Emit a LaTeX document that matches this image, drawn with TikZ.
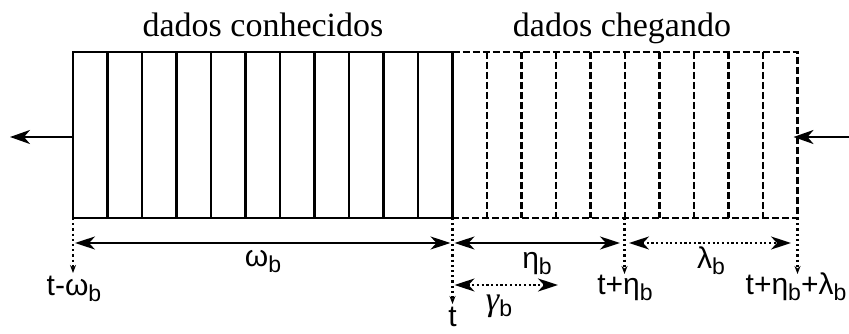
\documentclass[tikz,border=0pt]{standalone}
\usepackage{fontspec}
\setmainfont{Liberation Serif}
\newfontfamily\labfont{Liberation Sans}
\newfontfamily\gamfont{Liberation Serif}
\usetikzlibrary{arrows.meta}
\newcommand\sbx[1]{\raisebox{-6pt}{\fontsize{23}{23}\selectfont #1}}
\tikzset{
  boxline/.style={line width=2.2pt},
  dboxline/.style={line width=2.2pt, dash pattern=on 7pt off 3pt},
  bigtip/.style={-{Stealth[length=20pt,width=14pt,inset=6pt]}},
  dimarrow/.style={line width=2.2pt, {Stealth[length=20pt,width=13pt,inset=6pt]}-{Stealth[length=20pt,width=13pt,inset=6pt]}},
  ddimarrow/.style={dimarrow, dash pattern=on 2.2pt off 2.5pt},
  tickarrow/.style={line width=2.2pt, dash pattern=on 2.2pt off 3pt, -{Stealth[length=8pt,width=6pt]}},
  titletext/.style={font=\fontsize{34}{40}\selectfont, inner sep=0pt, anchor=base},
  labtext/.style={font=\labfont\fontsize{30}{34}\selectfont, inner sep=0pt, anchor=base},
}
\begin{document}
\begin{tikzpicture}[x=1pt,y=-1pt]
\useasboundingbox (0,0) rectangle (849,334);
% box
\draw[boxline] (73,52) rectangle (452.5,218);
\foreach \i in {1,...,10} \draw[boxline] ({73+34.5*\i},52) -- ++(0,166);
\draw[dboxline] (452.5,52) -- (797.5,52) -- (797.5,218) -- (452.5,218);
\foreach \i in {12,...,20} \draw[dboxline] ({73+34.5*\i},52) -- ++(0,166);
% named points
\coordinate (L) at (73,218);
\coordinate (T) at (452.5,218);
\coordinate (E) at (624.5,218);
\coordinate (R) at (797.5,218);
\coordinate (inL) at (73,137);
\coordinate (outL) at (10,137);
\coordinate (inR) at (849,137);
\coordinate (outR) at (797.5,137);
% titles
\node[titletext] (t1) at (263,37) {dados conhecidos};
\node[titletext] (t2) at (622,37) {dados chegando};
% side arrows
\draw[line width=2.2pt, bigtip] (inL) -- (outL);
\draw[line width=2.2pt, bigtip] (inR) -- ([xshift=-4pt]outR);
% time labels
\node[labtext] (lw) at (74,295) {t-ω\sbx{b}};
\node[labtext] (lt) at (452.5,326) {t};
\node[labtext] (le) at (625,294) {t+η\sbx{b}};
\node[labtext] (lr) at (796,294) {t+η\sbx{b}+λ\sbx{b}};
% dotted ticks
\draw[tickarrow] (L) -- ++(0,55);
\draw[tickarrow] (T) -- ++(0,86);
\draw[tickarrow] (E) -- ++(0,56);
\draw[tickarrow] (R) -- ++(0,56);
% dimension arrows
\coordinate (w1) at (75,243);
\coordinate (w2) at (450.5,243);
\coordinate (h1) at (454.5,243);
\coordinate (h2) at (620,243);
\coordinate (l1) at (629,243);
\coordinate (l2) at (791,243);
\coordinate (g1) at (454.5,285);
\coordinate (g2) at (558,285);
\draw[dimarrow] (w1) -- (w2);
\draw[dimarrow] (h1) -- (h2);
\draw[ddimarrow] (l1) -- (l2);
\draw[ddimarrow] (g1) -- (g2);
% dimension labels
\node[labtext] (lom) at (263,266) {ω\sbx{b}};
\node[labtext] (leta) at (537,268) {η\sbx{b}};
\node[labtext] (llam) at (711,268) {λ\sbx{b}};
\node[labtext] (lgam) at (499,310) {{\gamfont\itshape\fontsize{34}{34}\selectfont γ}\sbx{b}};
\end{tikzpicture}
\end{document}
